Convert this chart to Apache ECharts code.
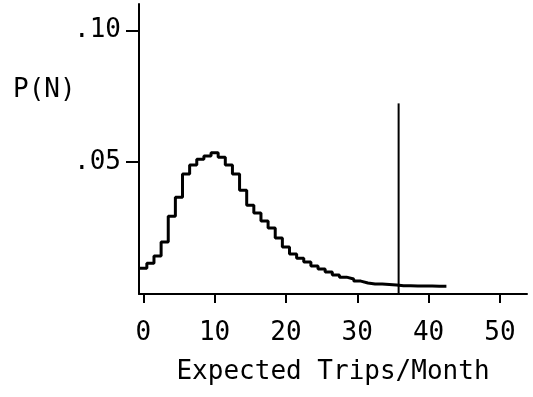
<!DOCTYPE html>
<html>
<head>
<meta charset="utf-8">
<script src="https://cdn.jsdelivr.net/npm/echarts@6/dist/echarts.min.js"></script>
<style>
  html, body { margin: 0; padding: 0; background: #fff; }
  #chart { width: 533px; height: 397px; }
</style>
</head>
<body>
<div id="chart"></div>
<script>
// bin centres (trips/month) and probability of each bin
const trips = [0, 1, 2, 3, 4, 5, 6, 7, 8, 9, 10, 11, 12, 13, 14, 15, 16, 17, 18, 19, 20,
  21, 22, 23, 24, 25, 26, 27, 28, 29, 30, 31, 32, 33, 34, 35, 36, 37, 38, 39, 40, 41, 42];
const probability = [0.0098, 0.0117, 0.0144, 0.0197, 0.0295, 0.0367, 0.0455, 0.0489, 0.0511,
  0.0523, 0.0536, 0.0519, 0.0489, 0.0455, 0.0394, 0.0337, 0.0307, 0.0277, 0.0250, 0.0212,
  0.0178, 0.0152, 0.0136, 0.0121, 0.0106, 0.0095, 0.0083, 0.0072, 0.0064, 0.0057, 0.0049,
  0.0042, 0.0038, 0.0038, 0.0036, 0.0034, 0.0031, 0.0031, 0.0030, 0.0030, 0.0030, 0.0029, 0.0029];
const xTicks = [0, 10, 20, 30, 40, 50];
const yTicks = [0.05, 0.10];
const cutoffTrips = 35.8;
const cutoffHeight = 0.0723;

const binWidth = 1;
// outline of the histogram: left edge of every bin, plus the right edge of the last
const outline = trips.map((t, i) => [t - binWidth / 2, probability[i]]);
outline.push([trips[trips.length - 1] + binWidth / 2, probability[probability.length - 1]]);

const font = 'DejaVu Sans Mono';
const chart = echarts.init(document.getElementById('chart'));
chart.setOption({
  animation: false,
  backgroundColor: '#fff',
  title: {
    text: 'P(N)',
    left: 13,
    top: 77,
    padding: 0,
    textStyle: { fontFamily: font, fontSize: 26, fontWeight: 'normal', color: '#000' }
  },
  grid: { left: 139, right: 6, top: 4, bottom: 103 },
  xAxis: {
    type: 'value',
    min: -0.6,
    max: 53.8,
    name: 'Expected Trips/Month',
    nameLocation: 'middle',
    nameGap: 65,
    nameTextStyle: { fontFamily: font, fontSize: 26, color: '#000' },
    axisLine: { onZero: false, lineStyle: { color: '#000', width: 2 } },
    axisTick: { customValues: xTicks, length: 9, lineStyle: { color: '#000', width: 2 } },
    axisLabel: { customValues: xTicks, margin: 26, fontFamily: font, fontSize: 26, color: '#000' },
    splitLine: { show: false }
  },
  yAxis: {
    type: 'value',
    min: 0,
    max: 0.11,
    axisLine: { show: true, onZero: false, lineStyle: { color: '#000', width: 2 } },
    axisTick: { show: true, customValues: yTicks, length: 13, lineStyle: { color: '#000', width: 2 } },
    axisLabel: {
      customValues: yTicks,
      margin: 18,
      padding: [0, 0, 8, 0],
      fontFamily: font,
      fontSize: 26,
      color: '#000',
      formatter: v => v.toFixed(2).slice(1)
    },
    splitLine: { show: false }
  },
  series: [
    {
      type: 'line',
      step: 'end',
      data: outline,
      showSymbol: false,
      lineStyle: { color: '#000', width: 3 }
    },
    {
      type: 'line',
      data: [[cutoffTrips, 0], [cutoffTrips, cutoffHeight]],
      showSymbol: false,
      lineStyle: { color: '#000', width: 2 }
    }
  ]
});
</script>
</body>
</html>
